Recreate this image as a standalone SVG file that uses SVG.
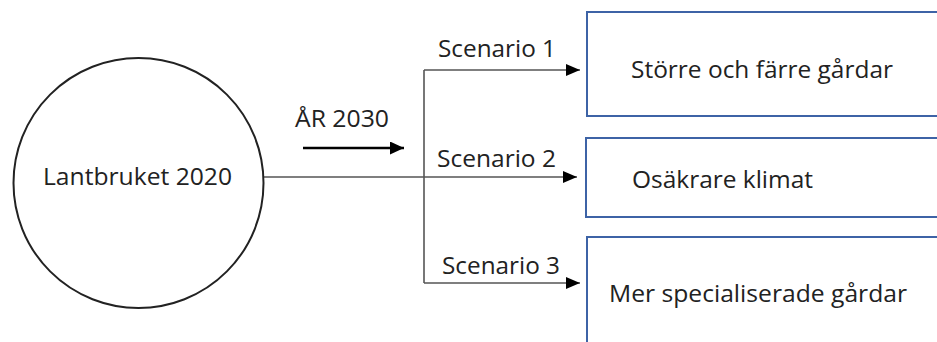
<svg xmlns="http://www.w3.org/2000/svg" width="937" height="342" viewBox="0 0 937 342">
<defs>
<style>
text{font-family:"Open Sans","Liberation Sans",sans-serif;font-size:24.5px;fill:#222}
.box{fill:#fff;stroke:#3d63a6;stroke-width:2}
.conn{fill:none;stroke:#555;stroke-width:1.6}
</style>
<marker id="ah" markerWidth="14" markerHeight="12" refX="14" refY="6" orient="auto" markerUnits="userSpaceOnUse" viewBox="0 0 14 12">
<path d="M0,0 L14,6 L0,12 Z" fill="#000"/>
</marker>
<marker id="ah2" markerWidth="14" markerHeight="13" refX="14" refY="6.5" orient="auto" markerUnits="userSpaceOnUse" viewBox="0 0 14 13">
<path d="M0,0 L14,6.5 L0,13 Z" fill="#000"/>
</marker>
</defs>
<rect width="937" height="342" fill="#fff"/>
<g id="connectors">
<path class="conn" d="M264,177 H424"/>
<path class="conn" d="M424,70 V283"/>
<path class="conn" d="M424,70 H580" marker-end="url(#ah)"/>
<path class="conn" d="M424,177 H577" marker-end="url(#ah)"/>
<path class="conn" d="M424,283 H580" marker-end="url(#ah)"/>
<path d="M303,148 H404" stroke="#000" stroke-width="2.4" fill="none" marker-end="url(#ah2)"/>
<text x="295" y="127" textLength="94" lengthAdjust="spacingAndGlyphs">ÅR 2030</text>
<text x="438" y="57" textLength="118" lengthAdjust="spacingAndGlyphs">Scenario 1</text>
<text x="437" y="167" textLength="119" lengthAdjust="spacingAndGlyphs">Scenario 2</text>
<text x="442" y="274" textLength="118" lengthAdjust="spacingAndGlyphs">Scenario 3</text>
</g>
<g id="lantbruket">
<circle cx="138.5" cy="183" r="125" fill="#fff" stroke="#222" stroke-width="2"/>
<text x="43" y="185" textLength="189" lengthAdjust="spacingAndGlyphs">Lantbruket 2020</text>
</g>
<g id="scenario1">
<rect class="box" x="587" y="12" width="360" height="104"/>
<text x="631" y="78" textLength="262" lengthAdjust="spacingAndGlyphs">Större och färre gårdar</text>
</g>
<g id="scenario2">
<rect class="box" x="586" y="138" width="360" height="79"/>
<text x="632" y="188" textLength="181" lengthAdjust="spacingAndGlyphs">Osäkrare klimat</text>
</g>
<g id="scenario3">
<rect class="box" x="587" y="237" width="360" height="120"/>
<text x="609" y="302" textLength="298" lengthAdjust="spacingAndGlyphs">Mer specialiserade gårdar</text>
</g>
</svg>
